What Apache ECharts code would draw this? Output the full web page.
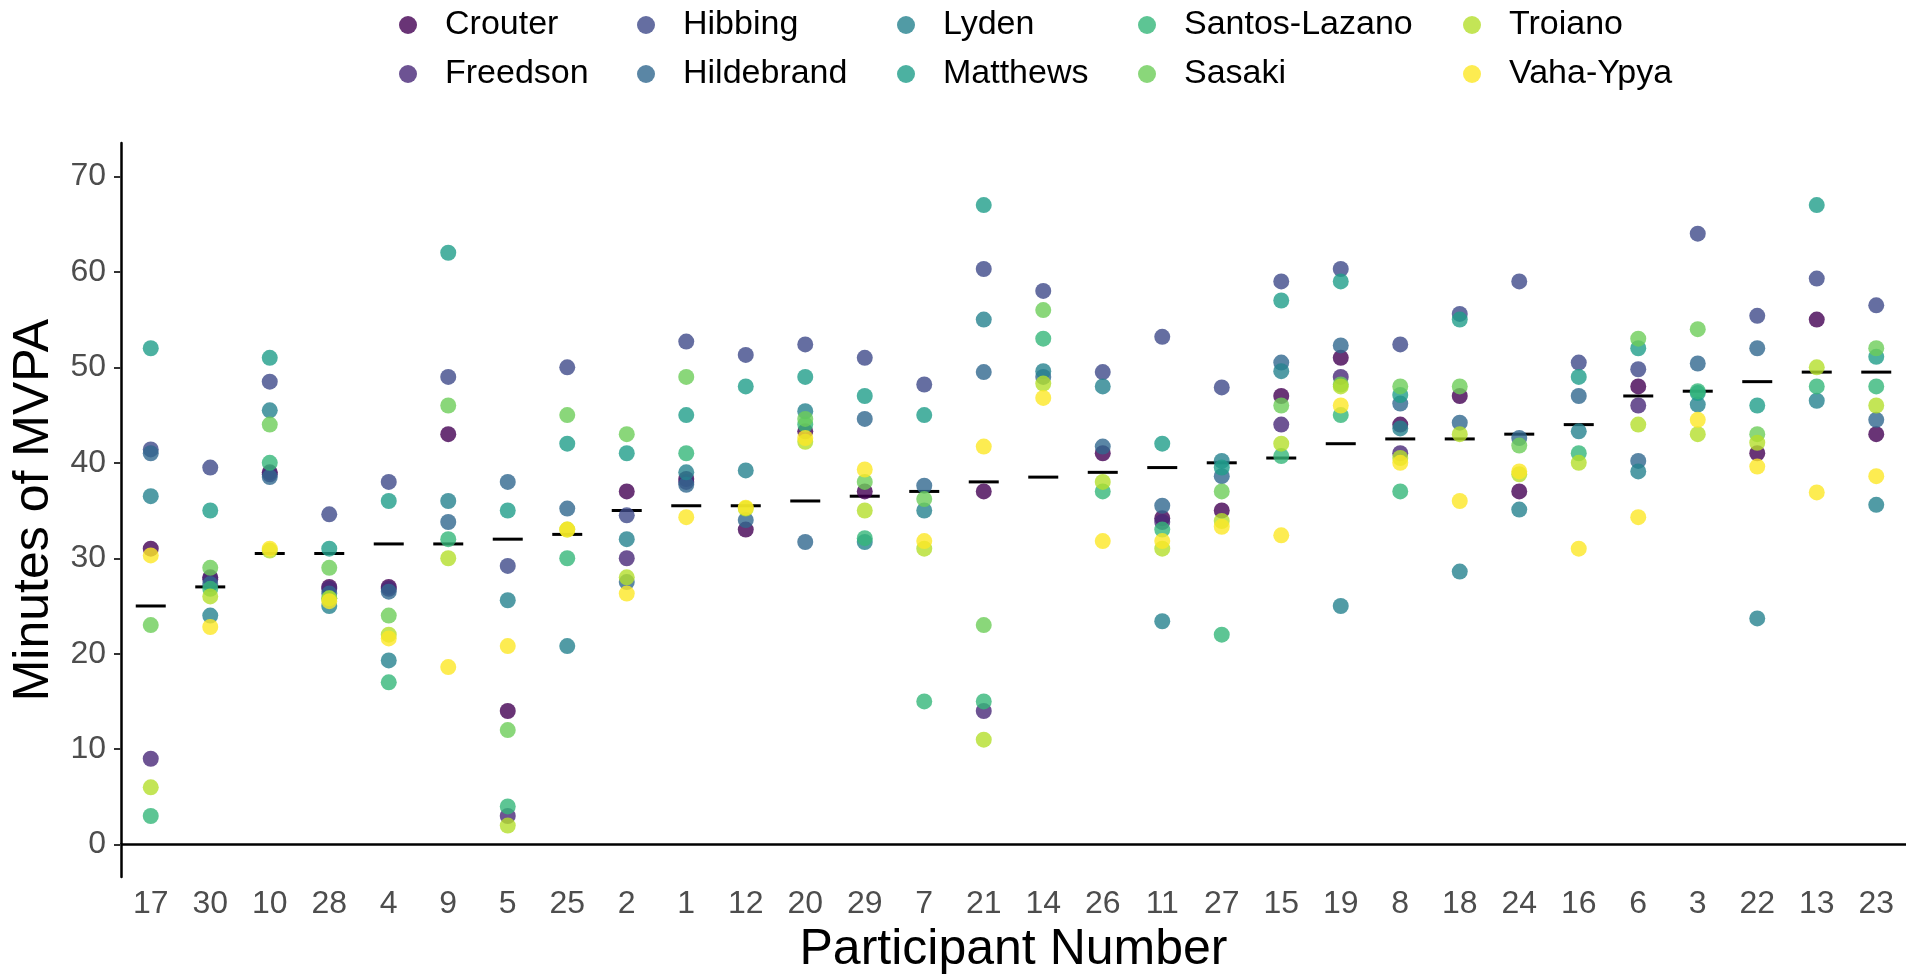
<!DOCTYPE html>
<html>
<head>
<meta charset="utf-8">
<script src="https://cdn.jsdelivr.net/npm/echarts@6/dist/echarts.min.js"></script>
<style>
  html, body { margin: 0; padding: 0; background: #fff; }
  #chart { width: 1906px; height: 980px; }
</style>
</head>
<body>
<div id="chart"></div>
<script type="text/javascript">
// participants, ordered by their median minutes (x axis order)
var participants = ['17','30','10','28','4','9','5','25','2','1','12','20','29','7','21',
                    '14','26','11','27','15','19','8','18','24','16','6','3','22','13','23'];
var yTicks = [0, 10, 20, 30, 40, 50, 60, 70];

var methods = ['Crouter','Freedson','Hibbing','Hildebrand','Lyden','Matthews',
               'Santos-Lazano','Sasaki','Troiano','Vaha-Ypya'];

// minutes of MVPA per method, one value per participant (null = not visible)
var crouter     = [31, 28, 39, 27, 27, 43, 14, null, 37, 38.3, 33, 43.3, 37, null, 37, null, 41, 34.2, 35, 47, 51, 44, 47, 37, null, 48, null, 41, 55, 43];
var freedson    = [9, 27.8, 38.8, 26.8, 26.8, null, 3, null, 30, 38, null, null, null, null, 14, null, null, 33.8, null, 44, 49, 41, null, null, null, 46, null, null, null, null];
var hibbing     = [41.4, 39.5, 48.5, 34.6, 38, 49, 29.2, 50, 34.5, 52.7, 51.3, 52.4, 51, 48.2, 60.3, 58, 49.5, 53.2, 47.9, 59, 60.3, 52.4, 55.6, 59, 50.5, 49.8, 64, 55.4, 59.3, 56.5];
var hildebrand  = [41, 27.3, 38.5, 26.3, 26.5, 33.8, 38, 35.2, 27.5, 37.7, 34, 31.7, 44.6, 37.6, 49.5, 49, 41.7, 35.5, 38.6, 50.5, 52.3, 46.2, 44.2, 42.6, 47, 40.2, 50.4, 52, null, 44.5];
var lyden       = [36.5, 24, 45.5, 25, 19.3, 36, 25.6, 20.8, 32, 39, 39.2, 45.4, 31.7, 35, 55, 49.6, 48, 23.4, 40.2, 49.6, 25, 43.6, 28.6, 35.1, 43.3, 39.1, 46.1, 23.7, 46.5, 35.6];
var matthews    = [52, 35, 51, 31, 36, 62, 35, 42, 41, 45, 48, 49, 47, 45, 67, null, null, 42, 39.5, 57, 59, 47.1, 55, null, 49, 52, 47.3, 46, 67, 51.1];
var santos      = [3, 26.8, 40, 25.8, 17, 32, 4, 30, null, 41, null, 44, 32.1, 15, 15, 53, 37, 33, 22, 40.7, 45, 37, null, null, 41, null, 47.5, null, 48, 48];
var sasaki      = [23, 29, 44, 29, 24, 46, 12, 45, 43, 49, null, 44.6, 38, 36.2, 23, 56, null, null, 37, 46, 48.2, 48, 48, 41.8, null, 53, 54, 43, null, 52];
var troiano     = [6, 26, 30.8, 25.8, 22, 30, 2, 33, 28, null, 35.2, 42.2, 35, 31, 11, 48.3, 38, 31, 33.9, 42, 48, 40.5, 43, 38.8, 40, 44, 43, 42.1, 50, 46];
var vahaYpya    = [30.3, 22.8, 31, 25.5, 21.6, 18.6, 20.8, 33, 26.3, 34.3, 35.3, 42.6, 39.3, 31.8, 41.7, 46.8, 31.8, 31.8, 33.3, 32.4, 46, 40, 36, 39.1, 31, 34.3, 44.5, 39.6, 36.9, 38.6];

// median per participant (black dash)
var medians = [25, 27, 30.5, 30.5, 31.5, 31.5, 32, 32.5, 35, 35.5, 35.5, 36, 36.5, 37, 38,
               38.5, 39, 39.5, 40, 40.5, 42, 42.5, 42.5, 43, 44, 47, 47.5, 48.5, 49.5, 49.5];

var methodValues = [crouter, freedson, hibbing, hildebrand, lyden, matthews, santos, sasaki, troiano, vahaYpya];
var colors = ['#440154','#482878','#3E4A89','#31688E','#26828E','#1F9E89','#35B779','#6DCD59','#B4DE2C','#FDE725'];

var chart = echarts.init(document.getElementById('chart'));

var series = [{
    name: 'median',
    type: 'scatter',
    data: medians,
    symbol: 'rect',
    symbolSize: [30, 3],
    itemStyle: { color: '#000', opacity: 1 },
    z: 1,
    silent: true
}];
methods.forEach(function (m, i) {
    series.push({
        name: m,
        type: 'scatter',
        data: methodValues[i],
        symbol: 'circle',
        symbolSize: 16,
        itemStyle: { color: colors[i], opacity: 0.8 },
        z: 2
    });
});

// legend: 5 columns x 2 rows, filled column by column
var legendCols = [403, 641, 901, 1142, 1467];
var legends = legendCols.map(function (x, c) {
    return {
        orient: 'vertical',
        left: x - 9,
        top: 1,
        itemWidth: 18,
        itemHeight: 18,
        itemGap: 11,
        icon: 'circle',
        selectedMode: false,
        data: [methods[c * 2], methods[c * 2 + 1]],
        itemStyle: { opacity: 0.8 },
        textStyle: {
            fontFamily: 'Liberation Sans',
            fontSize: 34,
            lineHeight: 38,
            color: '#000',
            padding: [0, 0, 0, 23]
        }
    };
});

var option = {
    animation: false,
    backgroundColor: '#fff',
    textStyle: { fontFamily: 'Liberation Sans' },
    legend: legends,
    grid: { left: 121, top: 143, width: 1794, height: 744 },
    xAxis: {
        type: 'category',
        data: participants,
        boundaryGap: true,
        name: 'Participant Number',
        nameLocation: 'middle',
        nameGap: 38,
        nameTextStyle: { fontSize: 50, color: '#000' },
        axisLine: { lineStyle: { color: '#000', width: 2.5 } },
        axisTick: { alignWithLabel: true, length: 7, lineStyle: { color: '#333', width: 2 } },
        axisLabel: { fontSize: 32, color: '#4d4d4d', margin: 11, interval: 0 }
    },
    yAxis: {
        type: 'value',
        min: -3.4,
        max: 73.5,
        name: 'Minutes of MVPA',
        nameLocation: 'middle',
        nameGap: 59,
        nameTextStyle: { fontSize: 50, color: '#000' },
        splitLine: { show: false },
        axisLine: { show: true, lineStyle: { color: '#000', width: 2.5 } },
        axisTick: { show: true, length: 7, customValues: yTicks, lineStyle: { color: '#333', width: 2 } },
        axisLabel: { fontSize: 32, color: '#4d4d4d', margin: 15, customValues: yTicks }
    },
    series: series
};

chart.setOption(option);
</script>
</body>
</html>
